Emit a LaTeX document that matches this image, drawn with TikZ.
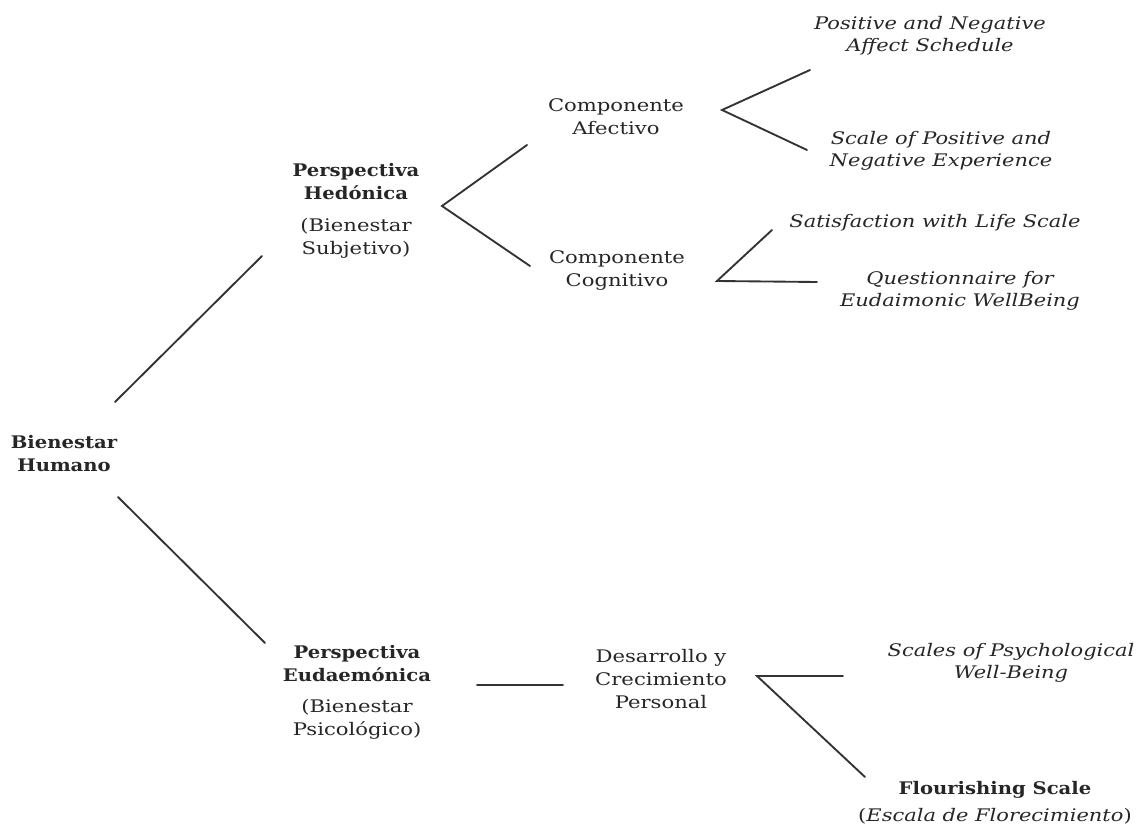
\documentclass[tikz,border=0pt]{standalone}
\usepackage{fontspec}
\setmainfont{DejaVu Serif}
\newfontfamily\rfont{DejaVu Serif}[FakeStretch=1.22]
\newfontfamily\bfont{DejaVu Serif}[FakeStretch=1.13]
\newfontfamily\ifont{DejaVu Serif}[FakeStretch=1.21]
\newcommand\bx[1]{{\bfont\bfseries #1}}
\begin{document}
\begin{tikzpicture}[x=0.75pt,y=-0.75pt,
  txt/.style={align=center, text=black!85, inner sep=0pt, font=\fontsize{13}{17.25}\selectfont\rfont},
  itx/.style={txt, font=\fontsize{13}{16.5}\selectfont\ifont\itshape},
  ln/.style={line width=1.4pt, draw=black!80, line cap=round}]
\useasboundingbox (0,0) rectangle (1143,831);
% nodes
\node[txt] (bh)  at (64,454)  {\bx{Bienestar}\\\bx{Humano}};
\node[txt] (hed) at (356,211) {\bx{Perspectiva}\\\bx{Hedónica}\\[7pt](Bienestar\\Subjetivo)};
\node[txt] (eud) at (357,692) {\bx{Perspectiva}\\\bx{Eudaemónica}\\[6pt](Bienestar\\Psicológico)};
\node[txt] (afe) at (616,117) {Componente\\Afectivo};
\node[txt] (cog) at (617,270) {Componente\\Cognitivo};
\node[txt] (des) at (661,679) {Desarrollo y\\Crecimiento\\Personal};
\node[itx] (panas) at (930,36)  {Positive and Negative\\Affect Schedule};
\node[itx] (spane) at (941,151) {Scale of Positive and\\Negative Experience};
\node[itx] (swls)  at (935,223) {Satisfaction with Life Scale};
\node[itx] (qewb)  at (960,291) {Questionnaire for\\Eudaimonic WellBeing};
\node[itx] (spwb)  at (1011,663) {Scales of Psychological\\Well-Being};
\node[txt] (fs)    at (995,803) {\bx{Flourishing Scale}\\[3pt]({\ifont\itshape Escala de Florecimiento})};
% connector coordinates
\coordinate (bhU) at (115,402);  \coordinate (hedL) at (262,256);
\coordinate (bhD) at (118,497);  \coordinate (eudL) at (265,643);
\coordinate (hedV) at (442,206); \coordinate (afeL) at (527,145); \coordinate (cogL) at (530,266);
\coordinate (afeV) at (722,110); \coordinate (panasL) at (810,70); \coordinate (spaneL) at (807,150);
\coordinate (cogV) at (717,281); \coordinate (swlsL) at (772,230); \coordinate (qewbL) at (817,282);
\coordinate (eudR) at (477,685); \coordinate (desL) at (563,685);
\coordinate (desV) at (757,676); \coordinate (spwbL) at (843,676); \coordinate (fsL) at (865,777);
% connectors
\draw[ln] (bhU) -- (hedL);
\draw[ln] (bhD) -- (eudL);
\draw[ln] (afeL) -- (hedV) -- (cogL);
\draw[ln] (panasL) -- (afeV) -- (spaneL);
\draw[ln] (swlsL) -- (cogV) -- (qewbL);
\draw[ln] (eudR) -- (desL);
\draw[ln] (spwbL) -- (desV) -- (fsL);
\end{tikzpicture}
\end{document}
